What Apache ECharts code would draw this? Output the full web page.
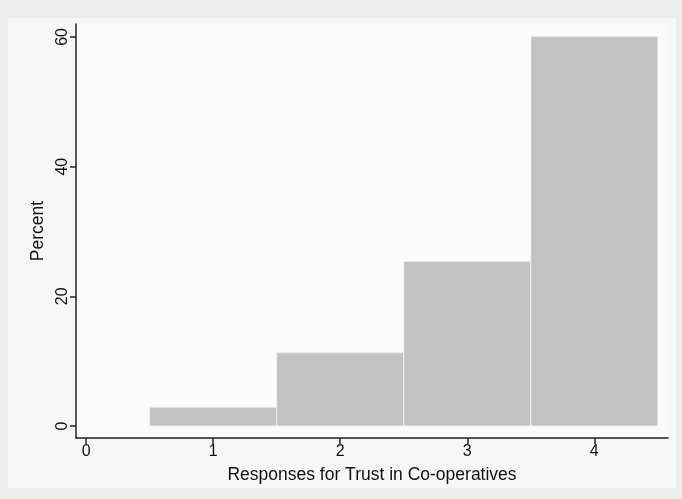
<!DOCTYPE html>
<html>
<head>
<meta charset="utf-8">
<script src="https://cdn.jsdelivr.net/npm/echarts@6/dist/echarts.min.js"></script>
<style>html,body{margin:0;padding:0;background:#ececec}#c{width:682px;height:499px}</style>
</head>
<body>
<div id="c"></div>
<script>
var binStart = [0.5, 1.5, 2.5, 3.5];
var binEnd = [1.5, 2.5, 3.5, 4.5];
var percent = [2.9, 11.3, 25.4, 60.1];
var xTicks = [0, 1, 2, 3, 4];
var yTicks = [0, 20, 40, 60];

var data = binStart.map(function (s, i) { return [s, binEnd[i], percent[i]]; });
var font = 'Liberation Sans, Arial, sans-serif';

var chart = echarts.init(document.getElementById('c'));
chart.setOption({
  backgroundColor: '#ececec',
  animation: false,
  graphic: [{
    type: 'rect', left: 8, top: 18, shape: { width: 668, height: 470 },
    style: { fill: '#f6f6f6' }, z: -10
  }],
  grid: { left: 76, right: 14, top: 24, bottom: 61, show: true, backgroundColor: '#fbfbfb', borderWidth: 0 },
  xAxis: {
    type: 'value', min: -0.08, max: 4.58,
    axisLine: { show: true, onZero: false, lineStyle: { color: '#222', width: 1.5 } },
    axisTick: { show: true, length: 6, customValues: xTicks, lineStyle: { color: '#222', width: 1.5 } },
    axisLabel: { customValues: xTicks, color: '#111', fontFamily: font, fontSize: 16, margin: 6 },
    splitLine: { show: false },
    name: 'Responses for Trust in Co-operatives', nameLocation: 'middle', nameGap: 28,
    nameTextStyle: { color: '#111', fontFamily: font, fontSize: 17.5 }
  },
  yAxis: {
    type: 'value', min: -1.85, max: 62,
    axisLine: { show: true, onZero: false, lineStyle: { color: '#222', width: 1.5 } },
    axisTick: { show: true, length: 6, customValues: yTicks, lineStyle: { color: '#222', width: 1.5 } },
    axisLabel: { customValues: yTicks, rotate: 90, color: '#111', fontFamily: font, fontSize: 16, margin: 5 },
    splitLine: { show: false },
    name: 'Percent', nameLocation: 'middle', nameGap: 29, nameRotate: 90,
    nameTextStyle: { color: '#111', fontFamily: font, fontSize: 17.5 }
  },
  series: [{
    type: 'custom',
    data: data,
    encode: { x: [0, 1], y: 2 },
    renderItem: function (params, api) {
      var p0 = api.coord([api.value(0), 0]);
      var p1 = api.coord([api.value(1), api.value(2)]);
      return {
        type: 'rect',
        shape: { x: p0[0], y: p1[1], width: p1[0] - p0[0], height: p0[1] - p1[1] },
        style: { fill: '#c2c2c2', stroke: '#eeeeee', lineWidth: 1 }
      };
    },
    markLine: {
      silent: true, symbol: 'none', label: { show: false },
      lineStyle: { color: '#ededed', type: 'solid', width: 1 },
      data: yTicks.slice(1).map(function (v) { return { yAxis: v }; }),
      z: -1
    }
  }]
});
</script>
</body>
</html>
